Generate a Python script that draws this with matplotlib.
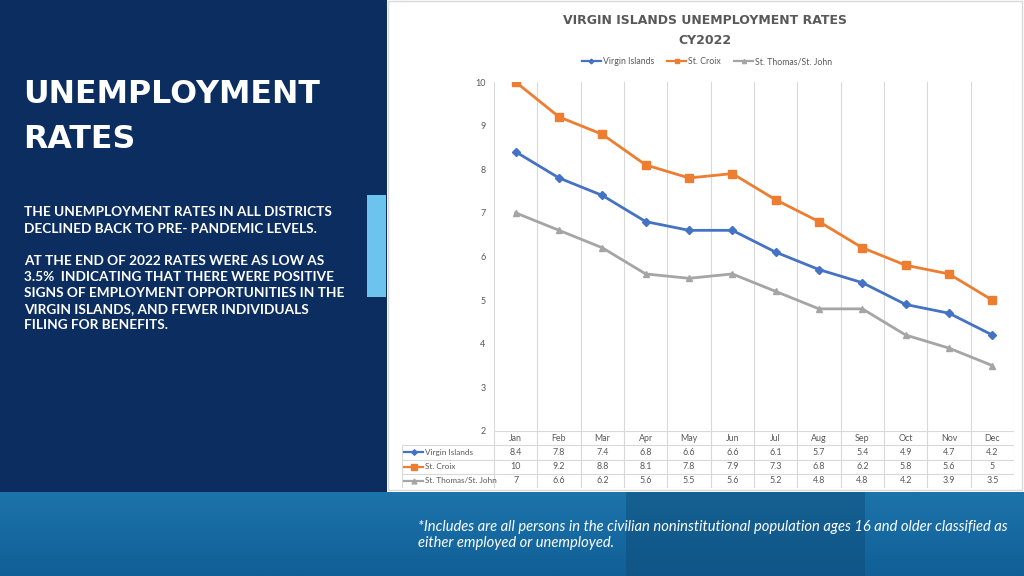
import numpy as np
import matplotlib.pyplot as plt
from matplotlib.patches import Rectangle
from matplotlib.colors import LinearSegmentedColormap

# data
months = ['Jan', 'Feb', 'Mar', 'Apr', 'May', 'Jun', 'Jul', 'Aug', 'Sep', 'Oct', 'Nov', 'Dec']
virgin_islands = [8.4, 7.8, 7.4, 6.8, 6.6, 6.6, 6.1, 5.7, 5.4, 4.9, 4.7, 4.2]
st_croix = [10, 9.2, 8.8, 8.1, 7.8, 7.9, 7.3, 6.8, 6.2, 5.8, 5.6, 5]
st_thomas = [7, 6.6, 6.2, 5.6, 5.5, 5.6, 5.2, 4.8, 4.8, 4.2, 3.9, 3.5]
series_names = ['Virgin Islands', 'St. Croix', 'St. Thomas/St. John']
series_values = [virgin_islands, st_croix, st_thomas]
series_colors = ['#4472c4', '#ed7d31', '#a5a5a5']
series_markers = ['D', 's', '^']
marker_sizes = [4, 5.5, 5]
y_ticks = [2, 3, 4, 5, 6, 7, 8, 9, 10]

W, H = 1024, 576
fig = plt.figure(figsize=(W / 100, H / 100), dpi=100)
grey = '#595959'


def box(x0, y0, x1, y1):
    # pixel box (top-left origin) -> figure fraction
    return [x0 / W, 1 - y1 / H, (x1 - x0) / W, (y1 - y0) / H]


# slide background
bg = fig.add_axes([0, 0, 1, 1])
grad = np.linspace(0, 1, 60)[:, None]
cmap = LinearSegmentedColormap.from_list('band', ['#1c74ab', '#115f97'])
bg.imshow(grad, extent=(0, W, 576, 492), cmap=cmap, aspect='auto')
bg.add_patch(Rectangle((626, 492), 239, 84, color='#0f4a74', alpha=0.45, lw=0))
bg.add_patch(Rectangle((0, 0), 387, 492, color='#0b2d5f', lw=0))
bg.add_patch(Rectangle((387, 0), 637, 492, color='white', lw=0))
bg.add_patch(Rectangle((388, 1), 634, 489, fill=False, ec='#d9d9d9', lw=1))
bg.add_patch(Rectangle((367, 195), 19, 102, color='#6cc4ee', lw=0))
bg.set_xlim(0, W)
bg.set_ylim(H, 0)
bg.axis('off')

bg.text(23, 103, 'UNEMPLOYMENT', color='white', fontsize=22.8, fontweight='bold',
        va='baseline', ha='left', family='DejaVu Sans')
bg.text(23, 148, 'RATES', color='white', fontsize=22.8, fontweight='bold',
        va='baseline', ha='left', family='DejaVu Sans')
body = ('THE UNEMPLOYMENT RATES IN ALL DISTRICTS\n'
        'DECLINED BACK TO PRE- PANDEMIC LEVELS.\n\n'
        'AT THE END OF 2022 RATES WERE AS LOW AS\n'
        '3.5%  INDICATING THAT THERE WERE POSITIVE\n'
        'SIGNS OF EMPLOYMENT OPPORTUNITIES IN THE\n'
        'VIRGIN ISLANDS, AND FEWER INDIVIDUALS\n'
        'FILING FOR BENEFITS.')
bg.text(24, 206.5, body, color='white', fontsize=9.8, fontweight='bold', va='top',
        ha='left', linespacing=1.41, family='Lato')
bg.text(418, 520, '*Includes are all persons in the civilian noninstitutional population ages 16 and older classified as\n'
        'either employed or unemployed.', color='white', fontsize=10.6, style='italic',
        va='top', ha='left', linespacing=1.2, family='Lato')

bg.text(705, 21, 'VIRGIN ISLANDS UNEMPLOYMENT RATES', color=grey, fontsize=9,
        fontweight='bold', ha='center', va='center')
bg.text(705, 41, 'CY2022', color=grey, fontsize=9, fontweight='bold',
        ha='center', va='center')

# chart
ax = fig.add_axes(box(494, 82, 1014, 431))
x = np.arange(len(months))
for vals, name, c, m, ms in zip(series_values, series_names, series_colors, series_markers, marker_sizes):
    ax.plot(x, vals, color=c, marker=m, markersize=ms, lw=2, label=name, zorder=3)
ax.set_xlim(-0.5, len(months) - 0.5)
ax.set_ylim(2, 10)
ax.set_yticks(y_ticks)
ax.set_xticks([])
ax.tick_params(axis='y', length=0, labelsize=6.5, labelcolor=grey, pad=6)
for lab in ax.get_yticklabels():
    lab.set_family('Lato')
for b in np.arange(-0.5, len(months)):
    ax.axvline(b, color='#d9d9d9', lw=0.8, zorder=1)
for s in ax.spines.values():
    s.set_visible(False)
ax.patch.set_alpha(0)
ax.legend(loc='center', bbox_to_anchor=(707 / W, 1 - 62 / H), bbox_transform=fig.transFigure,
          ncol=3, frameon=False, prop={'family': 'Lato', 'size': 6.3}, labelcolor=grey,
          handlelength=2.2, columnspacing=1.5, handletextpad=0.2, markerscale=0.6)
for line in ax.get_legend().get_lines():
    line.set_linewidth(1.6)

# data table under the chart, on the same category scale
unit = (1014 - 494) / len(months)
left = -0.5 - (494 - 402) / unit
tb = fig.add_axes(box(402, 431, 1014, 488))
tb.set_xlim(left, len(months) - 0.5)
tb.set_ylim(4, 0)
tb.axis('off')
gc = '#d9d9d9'
tfont = dict(fontsize=6.4, color=grey, family='Lato')
tb.hlines(0, -0.5, len(months) - 0.5, color=gc, lw=0.8)
tb.hlines([1, 2, 3, 4], left, len(months) - 0.5, color=gc, lw=0.8)
tb.vlines(np.arange(-0.5, len(months)), 0, 4, color=gc, lw=0.8)
tb.vlines(left, 1, 4, color=gc, lw=0.8)
for i, mth in enumerate(months):
    tb.text(i, 0.5, mth, ha='center', va='center', **tfont)
for r, (vals, name, c, m, ms) in enumerate(zip(series_values, series_names, series_colors,
                                               series_markers, marker_sizes), start=1):
    k0 = left + 2 / unit
    k1 = left + 21 / unit
    tb.plot([k0, k1], [r + 0.5, r + 0.5], color=c, lw=1.6)
    tb.plot([(k0 + k1) / 2], [r + 0.5], color=c, marker=m, markersize=ms * 0.7)
    tb.text(left + 23 / unit, r + 0.5, name, ha='left', va='center', fontsize=5.9,
            color=grey, family='Lato')
    for i, v in enumerate(vals):
        tb.text(i, r + 0.5, f'{v:g}', ha='center', va='center', **tfont)

fig.savefig('out.png', dpi=100)
